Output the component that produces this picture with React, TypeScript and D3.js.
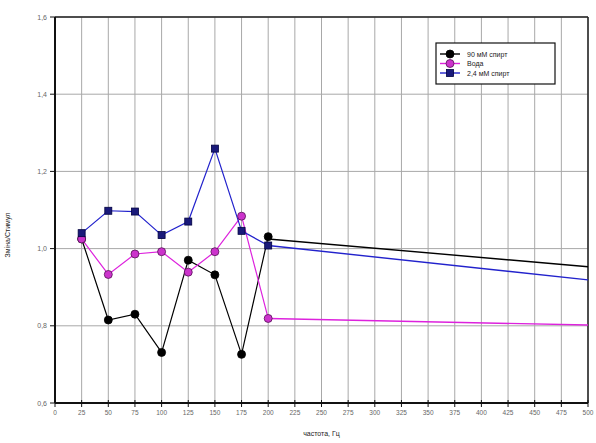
import React from "react";
import * as d3 from "d3";

const freqs = [25, 50, 75, 100, 125, 150, 175, 200];
const alcohol90 = [1.025, 0.815, 0.83, 0.731, 0.97, 0.932, 0.726, 1.031];
const water = [1.025, 0.933, 0.986, 0.992, 0.939, 0.992, 1.084, 0.819];
const alcohol24 = [1.04, 1.098, 1.096, 1.035, 1.07, 1.259, 1.046, 1.008];

const tailFreqs = [200, 500];
const alcohol90Tail = [1.025, 0.953];
const waterTail = [0.819, 0.802];
const alcohol24Tail = [1.008, 0.919];

const xTicks = d3.range(0, 501, 25);
const yTicks = [0.6, 0.8, 1.0, 1.2, 1.4, 1.6];
const seriesNames = ["90 мМ спирт", "Вода", "2,4 мМ спирт"];
const xTitle = "частота, Гц";
const yTitle = "Зміна/Стимул";

const W = 596, H = 443;
const L = 55, R = 588, T = 17, B = 403;

export default function App() {
  const x = d3.scaleLinear().domain([0, 500]).range([L, R]);
  const y = d3.scaleLinear().domain([0.6, 1.6]).range([B, T]);
  const line = d3.line<[number, number]>().x(d => x(d[0])).y(d => y(d[1]));

  const series = [
    { name: seriesNames[0], vals: alcohol90, tail: alcohol90Tail, color: "#000000", fill: "#000000", stroke: "#000", shape: "circle" },
    { name: seriesNames[1], vals: water, tail: waterTail, color: "#dd22dd", fill: "#cc33cc", stroke: "#551155", shape: "circle" },
    { name: seriesNames[2], vals: alcohol24, tail: alcohol24Tail, color: "#2222cc", fill: "#1a1a7a", stroke: "#000040", shape: "square" },
  ];

  const fmt = (v: number) => v.toFixed(1).replace(".", ",");

  const marker = (s: any, cx: number, cy: number, key: any) =>
    s.shape === "circle" ? (
      <circle key={key} cx={cx} cy={cy} r={4} fill={s.fill} stroke={s.stroke} strokeWidth={0.8} />
    ) : (
      <rect key={key} x={cx - 3.5} y={cy - 3.5} width={7} height={7} fill={s.fill} stroke={s.stroke} strokeWidth={0.8} />
    );

  const legX = 436, legY = 43, legW = 119, legH = 41;

  return (
    <svg width={W} height={H} style={{ position: "absolute", left: 0, top: 0, background: "#fff" }} fontFamily="Arial, 'Liberation Sans', sans-serif">
      {/* grid */}
      {xTicks.map(t => (
        <line key={"gx" + t} x1={x(t)} x2={x(t)} y1={T} y2={B} stroke="#a8a8a8" strokeWidth={1} />
      ))}
      {yTicks.map(t => (
        <line key={"gy" + t} x1={L} x2={R} y1={y(t)} y2={y(t)} stroke="#a8a8a8" strokeWidth={1} />
      ))}
      {/* frame */}
      <line x1={L} x2={R} y1={T} y2={T} stroke="#222" strokeWidth={1.5} />
      <line x1={R} x2={R} y1={T} y2={B} stroke="#222" strokeWidth={1.5} />
      <line x1={L} x2={L} y1={T} y2={B} stroke="#111" strokeWidth={2} />
      <line x1={L} x2={R} y1={B} y2={B} stroke="#111" strokeWidth={2} />
      {/* ticks */}
      {xTicks.map(t => (
        <g key={"tx" + t}>
          <line x1={x(t)} x2={x(t)} y1={B - 3} y2={B + 4} stroke="#111" strokeWidth={1} />
          <text x={x(t)} y={B + 12} fontSize={6.5} textAnchor="middle" fill="#666">{t}</text>
        </g>
      ))}
      {yTicks.map(t => (
        <g key={"ty" + t}>
          <line x1={L - 5} x2={L} y1={y(t)} y2={y(t)} stroke="#111" strokeWidth={1} />
          <text x={L - 8} y={y(t) + 2.5} fontSize={7} textAnchor="end" fill="#666">{fmt(t)}</text>
        </g>
      ))}
      <text x={(L + R) / 2} y={436} fontSize={7} textAnchor="middle" fill="#222">{xTitle}</text>
      <text transform={`translate(10,${235}) rotate(-90)`} fontSize={7} textAnchor="middle" fill="#222">{yTitle}</text>
      {/* series */}
      {series.map((s, i) => (
        <g key={"s" + i}>
          <path d={line(tailFreqs.map((f, j) => [f, s.tail[j]] as [number, number])) || ""} fill="none" stroke={s.color} strokeWidth={1.4} />
          <path d={line(freqs.map((f, j) => [f, s.vals[j]] as [number, number])) || ""} fill="none" stroke={s.color} strokeWidth={1.2} />
        </g>
      ))}
      {series.map((s, i) => (
        <g key={"m" + i}>{freqs.map((f, j) => marker(s, x(f), y(s.vals[j]), j))}</g>
      ))}
      {/* legend */}
      <rect x={legX} y={legY} width={legW} height={legH} fill="#fff" stroke="#111" strokeWidth={1.2} />
      {series.map((s, i) => {
        const ly = legY + 11 + i * 9.5;
        return (
          <g key={"l" + i}>
            <line x1={legX + 4} x2={legX + 24} y1={ly} y2={ly} stroke={s.color} strokeWidth={1.4} />
            {marker(s, legX + 14, ly, "lm")}
            <text x={legX + 31} y={ly + 2.5} fontSize={7} fill="#222">{s.name}</text>
          </g>
        );
      })}
    </svg>
  );
}
